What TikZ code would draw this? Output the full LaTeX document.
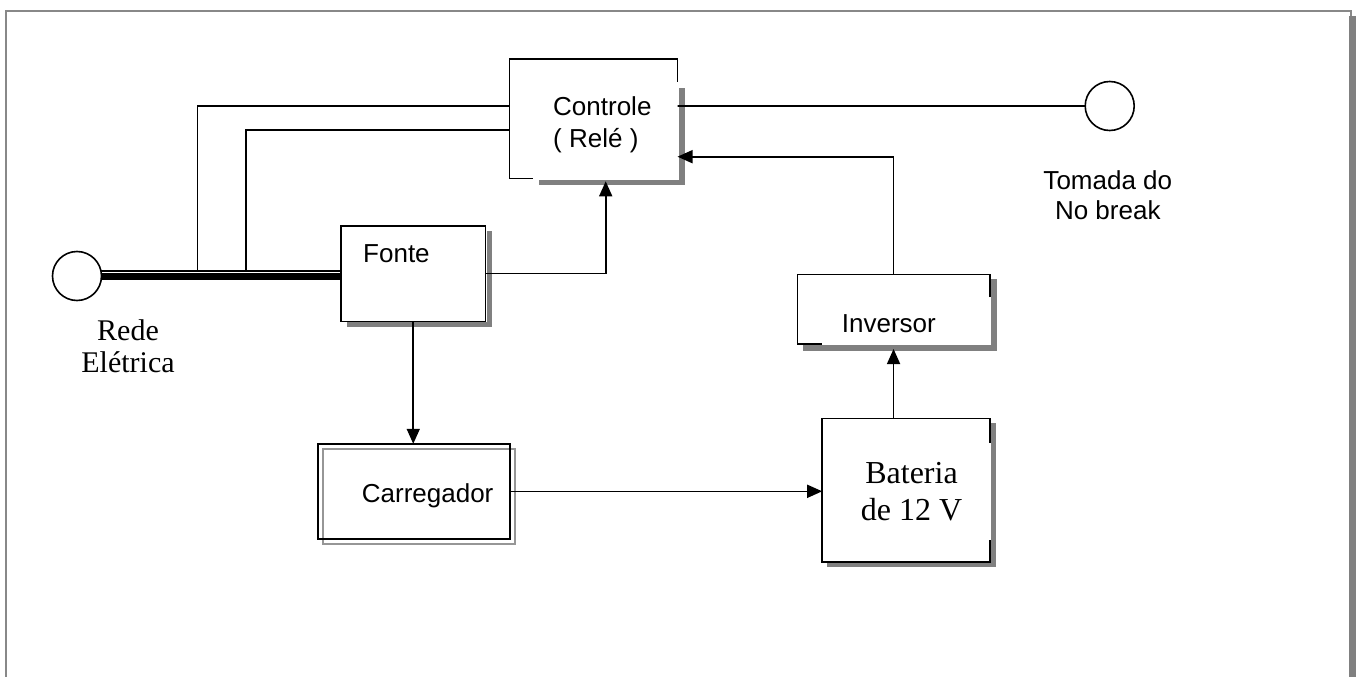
\documentclass[tikz,border=0pt]{standalone}
\usepackage{fontspec}
\setmainfont{Liberation Sans}
\newfontfamily\tnr{Liberation Serif}
\usetikzlibrary{arrows.meta,calc}
\definecolor{shadowgray}{RGB}{128,128,128}
\definecolor{framegray}{RGB}{136,136,136}
\definecolor{ghostgray}{RGB}{150,150,150}
\begin{document}
\begin{tikzpicture}[x=1bp,y=-1bp,
  wire/.style={line width=1.6bp,black},
  arr/.style={wire,-{Triangle[length=15bp,width=13bp]}},
  box/.style={draw=none,inner sep=0pt,outer sep=0pt,rectangle},
  shad/.style={fill=shadowgray,draw=none},
  lab/.style={font=\fontsize{26bp}{32bp}\selectfont,inner sep=0pt,anchor=base west,align=left},
  tlab/.style={font=\tnr\fontsize{32bp}{37.4bp}\selectfont,inner sep=0pt,anchor=base,align=center},
  plug/.style={circle,draw,line width=1.6bp,minimum size=49bp,inner sep=0pt,outer sep=0pt}
]
\useasboundingbox (0,0) rectangle (1360,677);

% outer frame
\draw[line width=2bp,framegray] (5.5,677) -- (5.5,11) -- (1350.5,11) -- (1350.5,16);
\fill[shadowgray] (1349,16) rectangle (1356,677);

% ---- boxes ----
% Controle
\node[box,minimum width=168bp,minimum height=119bp] (ctl) at (593.5,118.8) {};
\fill[shad] (679,88) rectangle (684.5,185);
\fill[shad] (539,179.6) rectangle (684.5,185);
\draw[wire] (677.5,82) -- (677.5,59.3) -- (509.5,59.3) -- (509.5,178.3) -- (533,178.3);

% Fonte
\node[box,minimum width=144.5bp,minimum height=95.6bp] (fonte) at (413.25,273.5) {};
\fill[shad] (486.6,230.7) rectangle (492.3,327.3);
\fill[shad] (346.7,322.4) rectangle (492.3,327.3);
\draw[wire] (fonte.north west) rectangle (fonte.south east);

% Inversor
\node[box,minimum width=192.5bp,minimum height=69.7bp] (inv) at (893.55,309.15) {};
\fill[shad] (990.8,279) rectangle (996.5,350.7);
\fill[shad] (803,345.1) rectangle (996.5,350.7);
\draw[wire] (989.8,297) -- (989.8,274.3) -- (797.3,274.3) -- (797.3,344) -- (821.7,344);

% Bateria
\node[box,minimum width=167.6bp,minimum height=143.7bp] (bat) at (906,490.15) {};
\fill[shad] (990.8,423) rectangle (995.5,567.3);
\fill[shad] (827,563.1) rectangle (995.5,567.3);
\draw[wire] (989.8,442.7) -- (989.8,418.3) -- (822.2,418.3) -- (822.2,562) -- (989.8,562) -- (989.8,540);

% Carregador (double outline)
\node[box,minimum width=192.2bp,minimum height=95bp] (carr) at (413.9,491.3) {};
\draw[line width=1.8bp,ghostgray] (322.7,448.7) rectangle (514.7,543.8);
\draw[wire] (carr.north west) rectangle (carr.south east);

% plugs
\node[plug] (rede) at (77,276) {};
\node[plug] (tom) at (1109.7,106) {};

% ---- labels (multi-line nodes: base = last line) ----
\node[lab] (ctltxt) at (553,147.7) {Controle\\( Relé )};
\node[lab] (fontetxt) at (363,262.3) {Fonte};
\node[lab] (carrtxt) at (361.7,502.7) {Carregador};
\node[lab] (invtxt) at (841.7,332.7) {Inversor};
\node[tlab] (battxt) at (911.5,520.7) {Bateria\\de 12 V};
\node[lab,font=\fontsize{26bp}{30bp}\selectfont,anchor=base,align=center] (tomtxt) at (1107.8,219.3) {Tomada do\\No break};
\node[font=\tnr\fontsize{30bp}{32bp}\selectfont,inner sep=0pt,anchor=base,align=center] (redetxt) at (128,372) {Rede\\Elétrica};

% ---- connectors ----
% mains feed: thin + thick line
\draw[line width=7bp] (rede.east) -- (fonte.west |- rede.east);
\draw[wire] (rede.12) -- (fonte.west |- rede.12);
\coordinate (j1) at (197.3,270.9);
\coordinate (j2) at (245.7,270.9);
\draw[wire] (j1) |- ([yshift=12.8bp]ctl.west);
\draw[wire] (j2) |- ([yshift=-10.9bp]ctl.west);
% controle to outlet
\draw[wire] ([yshift=12.8bp]ctl.east) -- (tom.west);
% fonte to controle
\draw[arr] (fonte.east) -| ([xshift=12.2bp,yshift=-3bp]ctl.south);
% fonte to carregador
\draw[arr] (fonte.south) -- (fonte.south |- carr.north);
% carregador to bateria
\draw[arr] (carr.east) -- (carr.east -| bat.west);
% bateria to inversor
\draw[arr] (inv.south |- bat.north) -- ([yshift=-5bp]inv.south);
% inversor to controle
\draw[arr] (inv.north) |- ([yshift=-37.9bp]ctl.east);
\end{tikzpicture}
\end{document}
